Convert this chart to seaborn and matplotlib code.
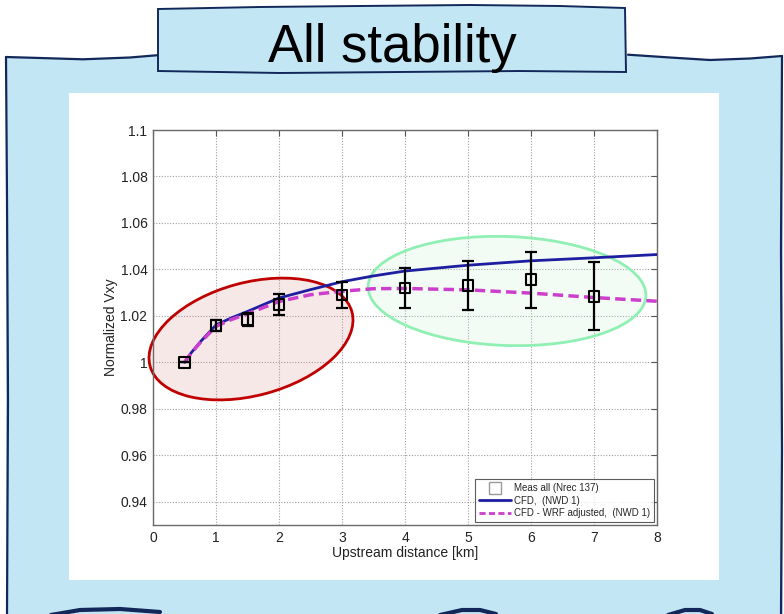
import numpy as np
import pandas as pd
import matplotlib
matplotlib.use("Agg")
import matplotlib.pyplot as plt
from matplotlib.patches import Polygon, Rectangle, Ellipse
from matplotlib.lines import Line2D
from matplotlib.transforms import Affine2D
import seaborn as sns

# ---- data ---------------------------------------------------------------
dist_meas = [0.5, 1.0, 1.5, 2.0, 3.0, 4.0, 5.0, 6.0, 7.0]
vxy_meas = [1.000, 1.016, 1.0185, 1.025, 1.029, 1.032, 1.033, 1.0355, 1.0285]
vxy_err = [0.0, 0.0023, 0.0028, 0.0046, 0.0057, 0.0087, 0.0106, 0.0122, 0.0147]

dist_model = [0.5, 0.6, 0.75, 1.0, 1.25, 1.5, 2.0, 2.5, 3.0, 3.5, 4.0, 5.0, 6.0, 7.0, 8.0]
vxy_cfd = [1.000, 1.0039, 1.0088, 1.0161, 1.0192, 1.0219, 1.0277, 1.0313, 1.0347,
           1.0372, 1.0393, 1.0418, 1.0437, 1.0450, 1.0464]
vxy_cfd_wrf = [1.000, 1.0037, 1.0085, 1.0155, 1.0185, 1.0209, 1.0262, 1.0291, 1.0306,
               1.0317, 1.0318, 1.0312, 1.0298, 1.0279, 1.0263]

x_ticks = [0, 1, 2, 3, 4, 5, 6, 7, 8]
y_ticks = [0.94, 0.96, 0.98, 1.0, 1.02, 1.04, 1.06, 1.08, 1.1]
y_tick_labels = ["0.94", "0.96", "0.98", "1", "1.02", "1.04", "1.06", "1.08", "1.1"]

label_meas = "Meas all (Nrec 137)"
label_cfd = "CFD,  (NWD 1)"
label_wrf = "CFD - WRF adjusted,  (NWD 1)"

meas = pd.DataFrame({"dist": dist_meas, "vxy": vxy_meas, "err": vxy_err})
model = pd.DataFrame({"dist": dist_model, "cfd": vxy_cfd, "wrf": vxy_cfd_wrf})

# ---- style --------------------------------------------------------------
sns.set_style("white")
plt.rcParams["font.family"] = ["Liberation Sans", "DejaVu Sans"]

W, H = 784, 614
fig = plt.figure(figsize=(W / 100, H / 100), dpi=100)
fig.patch.set_facecolor("white")

# pixel coordinates (origin top-left, y pointing down) -> figure
px = Affine2D().scale(1 / W, -1 / H).translate(0, 1) + fig.transFigure

frame_blue = "#c3e6f4"
ink = "#13285a"

# slide frame fill
frame_pts = [(6, 57), (40, 58), (83, 59), (130, 57), (160, 55),
             (630, 55), (670, 58), (710, 60), (750, 58), (783, 56),
             (783, 620), (6, 620)]
fig.add_artist(Polygon(frame_pts, closed=True, transform=px, facecolor=frame_blue,
                       edgecolor="none", zorder=-5))

# hand-drawn outline of the frame
top_left = [(6, 57), (40, 58), (83, 59.3), (130, 57.5), (160, 55)]
top_right = [(628, 54.7), (670, 57.5), (710, 60), (750, 58.5), (782, 56)]
left_edge = [(6, 57), (7, 200), (8, 400), (7, 614)]
right_edge = [(782, 56), (781, 250), (782, 450), (781, 614)]
bottom_bits = [[(45, 616), (80, 610), (120, 609), (160, 612)],
               [(440, 615), (462, 610), (480, 610), (496, 614)],
               [(668, 615), (685, 610), (700, 610), (712, 614)]]
for seg in [top_left, top_right, left_edge, right_edge]:
    xs, ys = zip(*seg)
    fig.add_artist(Line2D(xs, ys, transform=px, color=ink, lw=1.6, zorder=-4,
                          solid_capstyle="round"))
for seg in bottom_bits:
    xs, ys = zip(*seg)
    fig.add_artist(Line2D(xs, ys, transform=px, color=ink, lw=3.0, zorder=-4,
                          solid_capstyle="round"))

# white panel holding the plot
fig.add_artist(Rectangle((69, 93), 650, 487, transform=px, facecolor="white",
                         edgecolor="none", zorder=-3))

# title box
title_box = [(158, 9), (260, 7), (360, 6), (470, 5), (560, 6), (625, 8),
             (626, 72), (520, 71), (400, 72), (280, 73), (158, 71)]
fig.add_artist(Polygon(title_box, closed=True, transform=px, facecolor=frame_blue,
                       edgecolor=ink, lw=1.4, zorder=-2))
fig.text(392 / W, 1 - 62 / H, "All stability", ha="center", va="baseline",
         fontsize=38, color="black")

# ---- axes ---------------------------------------------------------------
ax_l, ax_r, ax_t, ax_b = 153, 657, 130, 525
ax = fig.add_axes([ax_l / W, 1 - ax_b / H, (ax_r - ax_l) / W, (ax_b - ax_t) / H])
ax.set_facecolor("white")
ax.set_xlim(0, 8)
ax.set_ylim(0.93, 1.1)
ax.set_xticks(x_ticks)
ax.set_yticks(y_ticks)
ax.set_yticklabels(y_tick_labels)
ax.grid(True, color="#a0a0a0", linestyle=(0, (1, 1.5)), lw=0.8)
ax.set_axisbelow(True)
for sp in ax.spines.values():
    sp.set_visible(True)
    sp.set_color("#6a6a6a")
    sp.set_linewidth(1.0)
ax.tick_params(direction="in", length=4, width=0.8, color="#555555",
               labelsize=10, labelcolor="#222222", top=True, right=True,
               pad=4)

# highlighted regions (pixel space, y down: negative angle tilts upward to the right)
ax.add_patch(Ellipse((251, 339), 209, 113, angle=-15, transform=px,
                     facecolor=(0.85, 0.55, 0.55, 0.2), edgecolor="#c00000",
                     lw=2.0, zorder=1.5, clip_on=False))
ax.add_patch(Ellipse((507, 291), 278, 109, angle=2, transform=px,
                     facecolor=(0.75, 0.95, 0.8, 0.2), edgecolor="#90efb2",
                     lw=2.0, zorder=1.5, clip_on=False))

blue = "#1e1ea0"
magenta = "#cc3fcc"
sns.lineplot(data=model, x="dist", y="cfd", ax=ax, color=blue, lw=2.0,
             zorder=3, legend=False)
sns.lineplot(data=model, x="dist", y="wrf", ax=ax, color=magenta, lw=2.5,
             zorder=3.2, legend=False)
ax.lines[-1].set_dashes((3, 1.5))

ax.errorbar(meas["dist"], meas["vxy"], yerr=meas["err"], fmt="none",
            ecolor="black", elinewidth=1.6, capsize=4, capthick=1.6, zorder=4)
sns.scatterplot(data=meas, x="dist", y="vxy", ax=ax, marker="s", s=60,
                facecolor="none", edgecolor="black", linewidth=1.5, zorder=5,
                legend=False)

ax.set_xlabel("Upstream distance [km]", fontsize=10, color="#222222", labelpad=1)
ax.set_ylabel("Normalized Vxy", fontsize=10, color="#222222", labelpad=2)

handles = [
    Line2D([], [], ls="none", marker="s", ms=8, mfc="none", mec="#999999", mew=1.0),
    Line2D([], [], color=blue, lw=2.0),
    Line2D([], [], color=magenta, lw=2.0, dashes=(2.2, 1.2)),
]
leg = ax.legend(handles, [label_meas, label_cfd, label_wrf], loc="lower right",
                fontsize=7, frameon=True, fancybox=False, handlelength=3.3,
                labelspacing=0.25, borderpad=0.4, borderaxespad=0.3,
                handletextpad=0.3)
leg.get_frame().set_edgecolor("#333333")
leg.get_frame().set_linewidth(0.8)

fig.savefig("out.png", dpi=100, facecolor="white")
